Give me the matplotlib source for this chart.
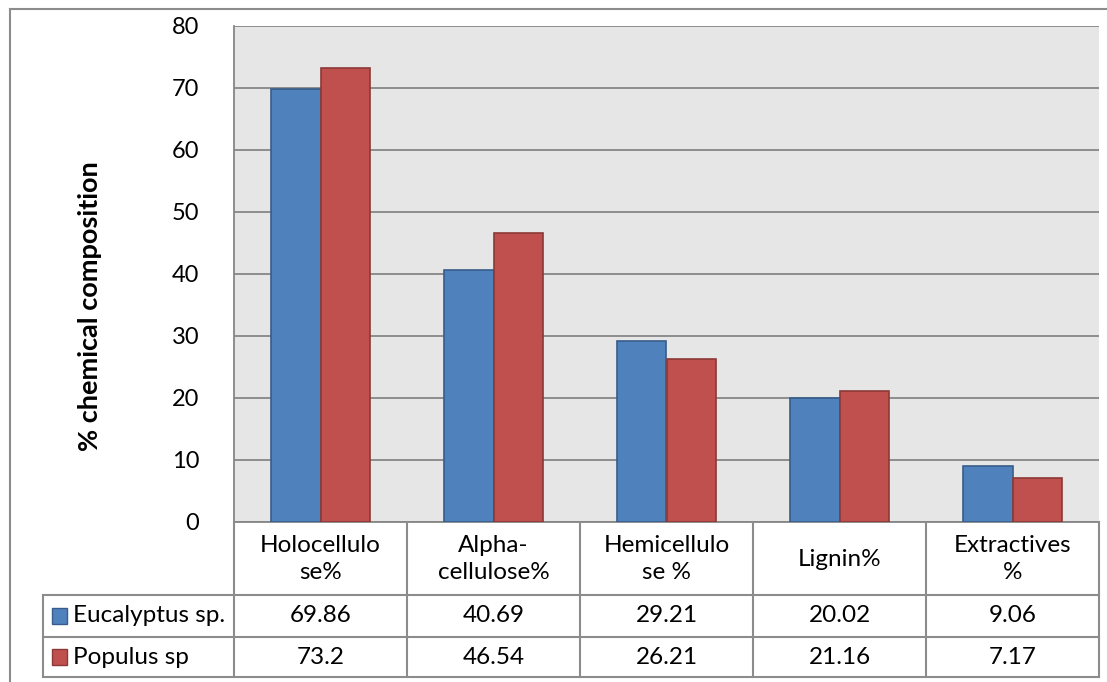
import matplotlib
matplotlib.use("Agg")
import matplotlib.pyplot as plt
from matplotlib.lines import Line2D
from matplotlib.patches import Rectangle
from matplotlib.transforms import blended_transform_factory
import numpy as np

categories = ["Holocellulo\nse%", "Alpha-\ncellulose%", "Hemicellulo\nse %", "Lignin%", "Extractives\n%"]
series_names = ["Eucalyptus sp.", "Populus sp"]
eucalyptus = [69.86, 40.69, 29.21, 20.02, 9.06]
populus = [73.2, 46.54, 26.21, 21.16, 7.17]
value_labels = [["69.86", "40.69", "29.21", "20.02", "9.06"],
                ["73.2", "46.54", "26.21", "21.16", "7.17"]]
yticks = [0, 10, 20, 30, 40, 50, 60, 70, 80]

FACE = ["#4F81BD", "#C0504D"]
EDGE = ["#385D8A", "#8C3836"]
GRID = "#868686"
FONT = "Lato"

W, H = 1107, 682
plt.rcParams["font.family"] = [FONT, "DejaVu Sans"]
fig = plt.figure(figsize=(W / 100, H / 100), dpi=100)


def fx(px):
    return px / W


def fy(py):
    return 1 - py / H


L, R, T, B = 234, 1099, 26, 522
ax = fig.add_axes([fx(L), fy(B), fx(R) - fx(L), fy(T) - fy(B)])
ax.set_facecolor("#E6E6E6")

x = np.arange(len(categories))
bw = 0.285
for i, vals in enumerate([eucalyptus, populus]):
    ax.bar(x + (i - 0.5) * bw, vals, width=bw, color=FACE[i], edgecolor=EDGE[i],
           linewidth=1.2, zorder=3)

ax.set_xlim(-0.5, len(categories) - 0.5)
ax.set_ylim(0, 80)
ax.set_yticks(yticks)
ax.set_yticklabels([str(t) for t in yticks], fontsize=17)
ax.tick_params(axis="y", length=0, pad=25)
ax.set_xticks([])
ax.yaxis.grid(True, color=GRID, lw=1.3, zorder=1)
for s in ("top", "right"):
    ax.spines[s].set_visible(False)
for s in ("left", "bottom"):
    ax.spines[s].set_color(GRID)
    ax.spines[s].set_linewidth(1.3)

fig.text(fx(90), fy(306), "% chemical composition", rotation=90, ha="center",
         va="center", fontsize=19.5, fontweight="bold")

# data table under the axis
tline = dict(color="#8C8C8C", lw=1.5)
row_y = [595, 637, 677]
for yy in row_y:
    fig.add_artist(Line2D([fx(43), fx(R)], [fy(yy), fy(yy)], **tline))
col_edges = np.linspace(L, R, len(categories) + 1)
for xx in col_edges:
    fig.add_artist(Line2D([fx(xx), fx(xx)], [fy(B), fy(677)], **tline))
fig.add_artist(Line2D([fx(43), fx(43)], [fy(595), fy(677)], **tline))

tr = blended_transform_factory(ax.transData, fig.transFigure)
for xi, cat in zip(x, categories):
    fig.text(xi, fy(559), cat, transform=tr, ha="center", va="center",
             fontsize=17.5, linespacing=1.35)
for r, labels in enumerate(value_labels):
    yc = (row_y[r] + row_y[r + 1]) / 2
    for xi, lab in zip(x, labels):
        fig.text(xi, fy(yc), lab, transform=tr, ha="center", va="center", fontsize=17.5)
    fig.add_artist(Rectangle((fx(52), fy(yc + 8)), fx(15), fy(yc - 8) - fy(yc + 8),
                             facecolor=FACE[r], edgecolor=EDGE[r], lw=1))
    fig.text(fx(73), fy(yc), series_names[r], ha="left", va="center", fontsize=17.5)

# chart frame
frame = dict(color="#8C8C8C", lw=1.5)
fig.add_artist(Line2D([fx(10), fx(10)], [fy(9), 0], **frame))
fig.add_artist(Line2D([fx(10), 1], [fy(9), fy(9)], **frame))

fig.savefig("out.png", dpi=100)
